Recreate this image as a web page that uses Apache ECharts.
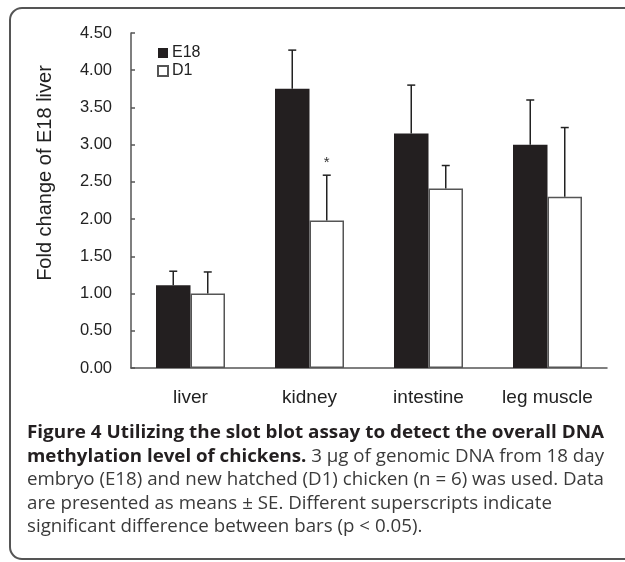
<!DOCTYPE html>
<html>
<head>
<meta charset="utf-8">
<title>Figure 4 - DNA methylation level of chickens</title>
<script src="https://cdn.jsdelivr.net/npm/echarts@6/dist/echarts.min.js"></script>
<style>
  html, body { margin: 0; padding: 0; background: #fff; }
  #chart { width: 625px; height: 562px; }
</style>
</head>
<body>
<div id="chart"></div>
<script>
  // data
  var categories = ['liver', 'kidney', 'intestine', 'leg muscle'];
  var e18Mean = [1.11, 3.75, 3.15, 3.00];
  var e18SE = [0.19, 0.52, 0.65, 0.60];
  var d1Mean = [1.00, 1.98, 2.41, 2.30];
  var d1SE = [0.29, 0.61, 0.31, 0.93];
  var d1Marks = ['', '*', '', ''];

  var yTitle = 'Fold change of E18 liver';
  var captionLines = [
    [['Figure 4 Utilizing the slot blot assay to detect the overall DNA', true]],
    [['methylation level of chickens.', true], [' 3 µg of genomic DNA from 18 day', false]],
    [['embryo (E18) and new hatched (D1) chicken (n = 6) was used. Data', false]],
    [['are presented as means ± SE. Different superscripts indicate', false]],
    [['significant difference between bars (p < 0.05).', false]]
  ];

  var BAR_W = 34.5;
  var CAP_FONT = '"Open Sans", "Noto Sans", sans-serif';
  var CAP_SIZE = 18.5;
  var AX_FONT = '"Liberation Sans", Arial, sans-serif';

  // measure caption text so justified lines end at the right spot
  var ctx = document.createElement('canvas').getContext('2d');
  function measure(parts) {
    var w = 0;
    parts.forEach(function (p) {
      ctx.font = (p[1] ? '700 ' : '400 ') + CAP_SIZE + 'px ' + CAP_FONT;
      w += ctx.measureText(p[0]).width;
    });
    return w;
  }

  var capX = 27, capY0 = 433, capStep = 23.5, capW = 577;
  var lastScale = 1;
  var captionEls = captionLines.map(function (parts, i) {
    var s = i < 3 ? capW / measure(parts) : lastScale;
    if (i < 3) lastScale = s;
    var txt = parts.map(function (p) {
      return '{' + (p[1] ? 'b' : 'r') + '|' + p[0] + '}';
    }).join('');
    return {
      type: 'text',
      x: capX,
      y: capY0 + i * capStep,
      scaleX: s,
      style: {
        text: txt,
        verticalAlign: 'middle',
        align: 'left',
        rich: {
          b: { fontFamily: CAP_FONT, fontSize: CAP_SIZE, fontWeight: 700, fill: '#231f20' },
          r: { fontFamily: CAP_FONT, fontSize: CAP_SIZE, fontWeight: 400, fill: '#3a3a3a' }
        }
      }
    };
  });

  function errorSeries(name, means, ses, side, marks) {
    return {
      type: 'custom',
      name: name + ' SE',
      z: 5,
      data: means.map(function (m, i) { return [i, m, m + ses[i]]; }),
      renderItem: function (params, api) {
        var i = api.value(0);
        var base = api.coord([i, api.value(1)]);
        var top = api.coord([i, api.value(2)]);
        var x = base[0] + side * BAR_W / 2;
        var children = [
          { type: 'line', shape: { x1: x, y1: base[1], x2: x, y2: top[1] }, style: { stroke: '#222', lineWidth: 1.5 } },
          { type: 'line', shape: { x1: x - 4, y1: top[1], x2: x + 4, y2: top[1] }, style: { stroke: '#222', lineWidth: 1.5 } }
        ];
        if (marks && marks[i]) {
          children.push({
            type: 'text', x: x, y: top[1] - 12,
            style: { text: marks[i], align: 'center', verticalAlign: 'middle', fontSize: 15, fontFamily: AX_FONT, fill: '#333' }
          });
        }
        return { type: 'group', children: children };
      }
    };
  }

  var chart = echarts.init(document.getElementById('chart'));
  var option = {
    animation: false,
    grid: { left: 131, right: 18, top: 33, bottom: 194 },
    legend: {
      data: ['E18', 'D1'],
      orient: 'vertical',
      left: 152,
      top: 40,
      icon: 'rect',
      itemWidth: 10,
      itemHeight: 10,
      itemGap: 2,
      selectedMode: false,
      textStyle: { fontFamily: AX_FONT, fontSize: 16, color: '#222', padding: [0, 0, 0, -1] }
    },
    xAxis: {
      type: 'category',
      data: categories,
      axisLine: { lineStyle: { color: '#555', width: 1.5 } },
      axisTick: { inside: true, length: 5, lineStyle: { color: '#555', width: 1.5 } },
      axisLabel: { margin: 20, fontFamily: AX_FONT, fontSize: 19, color: '#222' }
    },
    yAxis: {
      type: 'value',
      min: 0,
      max: 4.5,
      interval: 0.5,
      splitLine: { show: false },
      axisLine: { show: true, lineStyle: { color: '#555', width: 1.5 } },
      axisTick: { show: true, inside: true, length: 4, lineStyle: { color: '#555', width: 1.5 } },
      axisLabel: {
        margin: 19,
        fontFamily: AX_FONT,
        fontSize: 16.5,
        color: '#222',
        formatter: function (v) { return v.toFixed(2); }
      }
    },
    series: [
      {
        name: 'E18',
        type: 'bar',
        data: e18Mean,
        barWidth: BAR_W,
        barGap: '0%',
        itemStyle: { color: '#231f20', borderColor: '#231f20', borderWidth: 0 }
      },
      {
        name: 'D1',
        type: 'bar',
        data: d1Mean,
        barWidth: BAR_W,
        barGap: '0%',
        itemStyle: { color: '#ffffff', borderColor: '#555', borderWidth: 1.5 }
      },
      errorSeries('E18', e18Mean, e18SE, -1, null),
      errorSeries('D1', d1Mean, d1SE, 1, d1Marks)
    ],
    graphic: [
      {
        type: 'rect',
        shape: { x: 10, y: 8, width: 640, height: 551, r: 12 },
        style: { fill: 'none', stroke: '#555', lineWidth: 2 },
        silent: true
      },
      {
        type: 'text',
        x: 45,
        y: 173,
        rotation: Math.PI / 2,
        style: {
          text: yTitle,
          align: 'center',
          verticalAlign: 'middle',
          fontFamily: AX_FONT,
          fontSize: 20,
          fill: '#222'
        }
      }
    ].concat(captionEls)
  };
  chart.setOption(option);
</script>
</body>
</html>
